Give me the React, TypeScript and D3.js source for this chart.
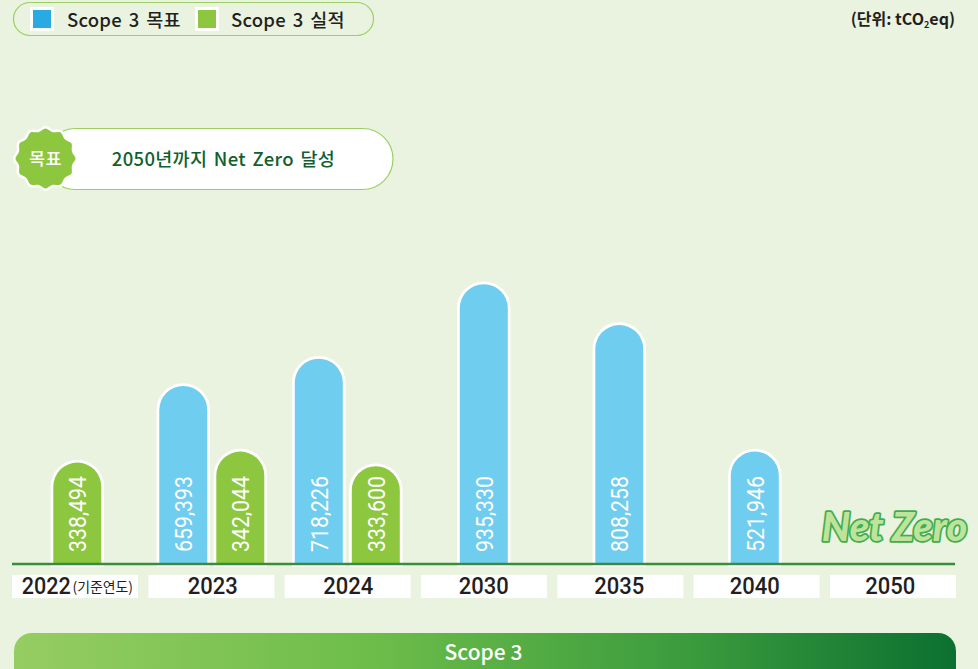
import React from "react";
import * as d3 from "d3";

const categories = ["2022", "2023", "2024", "2030", "2035", "2040", "2050"];
const targetLabels = [null, 659393, 718226, 935330, 808258, 521946, null];
const actualLabels = [338494, 342044, 333600, null, null, null, null];
// Drawn bar lengths in the source graphic are not proportional to their labels: read separately from the picture
const targetDrawn = [null, 597000, 688000, 938000, 801000, 377000, null];
const actualDrawn = [340000, 377000, 328000, null, null, null, null];
const legendItems = ["Scope 3 목표", "Scope 3 실적"];

const W = 978;
const H = 669;
const BLUE = "#6fcdf0";
const GREEN = "#8dc63f";
const KR = "'Noto Sans CJK KR', 'Noto Sans', sans-serif";
const NUM = "Roboto, 'Noto Sans CJK KR', sans-serif";
const DARK = "#231f20";

const baseY = 564;
const y = d3.scaleLinear().domain([0, 935330]).range([baseY, 285]);
const cell = d3.scaleBand().domain(categories).range([12, 956]).paddingInner(0.0758).paddingOuter(0);
const center = d3.scalePoint().domain(categories).range([77.3, 890.3]);
const fmt = d3.format(",");

const barW = 48;
const pillPath = (cx: number, top: number) => {
  const r = barW / 2;
  const l = cx - r;
  return `M${l},${baseY}V${top + r}A${r},${r} 0 0 1 ${l + barW},${top + r}V${baseY}Z`;
};

const starPoints: [number, number][] = d3.range(24).map((i) => [
  (i / 24) * 2 * Math.PI,
  i % 2 === 0 ? 33 : 25,
]);
const starPath = d3.lineRadial().curve(d3.curveBasisClosed)(starPoints) as string;

function Pill({ cx, drawn, label, fill }: { cx: number; drawn: number; label: number; fill: string }) {
  const top = y(drawn);
  return (
    <g>
      <path d={pillPath(cx, top)} fill={fill} stroke="#fff" strokeWidth={5.5} style={{ paintOrder: "stroke" }} />
      <text
        transform={`translate(${cx + 8.7},${baseY - 12}) rotate(-90) scale(0.87,1)`}
        fontFamily={NUM}
        fontWeight={400}
        fontSize={24.5}
        fill="#fff"
      >
        {fmt(label)}
      </text>
    </g>
  );
}

export default function App() {
  return (
    <svg
      width={W}
      height={H}
      viewBox={`0 0 ${W} ${H}`}
      style={{ position: "fixed", left: 0, top: 0, display: "block" }}
    >
      <defs>
        <linearGradient id="bottomGrad" x1="0" x2="1" y1="0" y2="0">
          <stop offset="0" stopColor="#96cd62" />
          <stop offset="0.38" stopColor="#6dbd4a" />
          <stop offset="0.72" stopColor="#3a9b3d" />
          <stop offset="1" stopColor="#0c7030" />
        </linearGradient>
      </defs>
      <rect width={W} height={H} fill="#eaf3df" />

      {/* legend */}
      <rect x={13.5} y={2.5} width={360} height={33} rx={16.5} fill="none" stroke="#9ccf63" strokeWidth={1.2} />
      <rect x={31.5} y={8.5} width={21} height={21} fill="#29abe2" stroke="#fff" strokeWidth={3} />
      <text x={67} y={27} fontFamily={KR} fontWeight={500} fontSize={18.5} wordSpacing={2.5} letterSpacing={0.2} fill={DARK}>{legendItems[0]}</text>
      <rect x={196.5} y={8.5} width={21} height={21} fill={GREEN} stroke="#fff" strokeWidth={3} />
      <text x={231} y={27} fontFamily={KR} fontWeight={500} fontSize={18.5} wordSpacing={2.5} letterSpacing={0.2} fill={DARK}>{legendItems[1]}</text>

      {/* unit */}
      <text x={955} y={25} textAnchor="end" fontFamily={KR} fontWeight={700} fontSize={16} fill={DARK}>
        (단위: tCO<tspan fontSize={9} dy={3}>2</tspan><tspan dy={-3}>eq)</tspan>
      </text>

      {/* goal */}
      <rect x={45} y={128.5} width={348} height={61} rx={30.5} fill="#fff" stroke="#9ccf63" strokeWidth={1.2} />
      <path d={starPath} transform="translate(45.5,158.5)" fill={GREEN} stroke="#fff" strokeWidth={5} style={{ paintOrder: "stroke" }} />
      <text x={45.5} y={164.5} textAnchor="middle" fontFamily={KR} fontWeight={500} fontSize={17.5} letterSpacing={0.5} fill="#fff">목표</text>
      <text x={223.5} y={166} textAnchor="middle" fontFamily={KR} fontWeight={500} fontSize={18.5} wordSpacing={2.2} letterSpacing={0.3} fill="#11602f">2050년까지 Net Zero 달성</text>

      {/* bars */}
      {categories.map((c, i) => {
        const t = targetDrawn[i];
        const a = actualDrawn[i];
        const both = t != null && a != null;
        const cx = center(c)!;
        return (
          <g key={c}>
            {t != null && (
              <Pill cx={both ? cx - 29.5 : cx} drawn={t} label={targetLabels[i]!} fill={BLUE} />
            )}
            {a != null && (
              <Pill cx={both ? cx + 27.5 : cx} drawn={a} label={actualLabels[i]!} fill={GREEN} />
            )}
          </g>
        );
      })}

      {/* baseline */}
      <line x1={12} x2={955} y1={y(0)} y2={y(0)} stroke="#3b8b3d" strokeWidth={2.5} />

      {/* Net Zero */}
      <text
        x={894.5}
        y={541}
        textAnchor="middle"
        fontFamily="Lato, 'Noto Sans', sans-serif"
        fontStyle="italic"
        fontWeight={900}
        fontSize={39.5}
        fill="#bfe39b"
        stroke="#3fae50"
        strokeWidth={3.5}
        strokeLinejoin="round"
        style={{ paintOrder: "stroke" }}
      >
        Net Zero
      </text>

      {/* category cells */}
      {categories.map((c, i) => {
        const x = cell(c)!;
        const w = cell.bandwidth();
        return (
          <g key={c}>
            <rect x={x} y={575} width={w} height={23} fill="#fff" />
            {i === 0 ? (
              <>
                <text x={21.7} y={594} textLength={49} lengthAdjust="spacingAndGlyphs" fontFamily={NUM} fontWeight={500} fontSize={23} fill={DARK}>
                  {c}
                </text>
                <text x={72.5} y={592} textLength={60.5} lengthAdjust="spacingAndGlyphs" fontFamily={KR} fontWeight={400} fontSize={14} fill={DARK}>(기준연도)</text>
              </>
            ) : (
              <text x={center(c)!} y={594} textAnchor="middle" textLength={50} lengthAdjust="spacingAndGlyphs" fontFamily={NUM} fontWeight={500} fontSize={23} fill={DARK}>
                {c}
              </text>
            )}
          </g>
        );
      })}

      {/* bottom banner */}
      <rect x={14} y={633} width={942} height={60} rx={18} fill="url(#bottomGrad)" />
      <text x={483.5} y={660} textAnchor="middle" fontFamily={KR} fontWeight={500} fontSize={21} fill="#fff">Scope 3</text>
    </svg>
  );
}
